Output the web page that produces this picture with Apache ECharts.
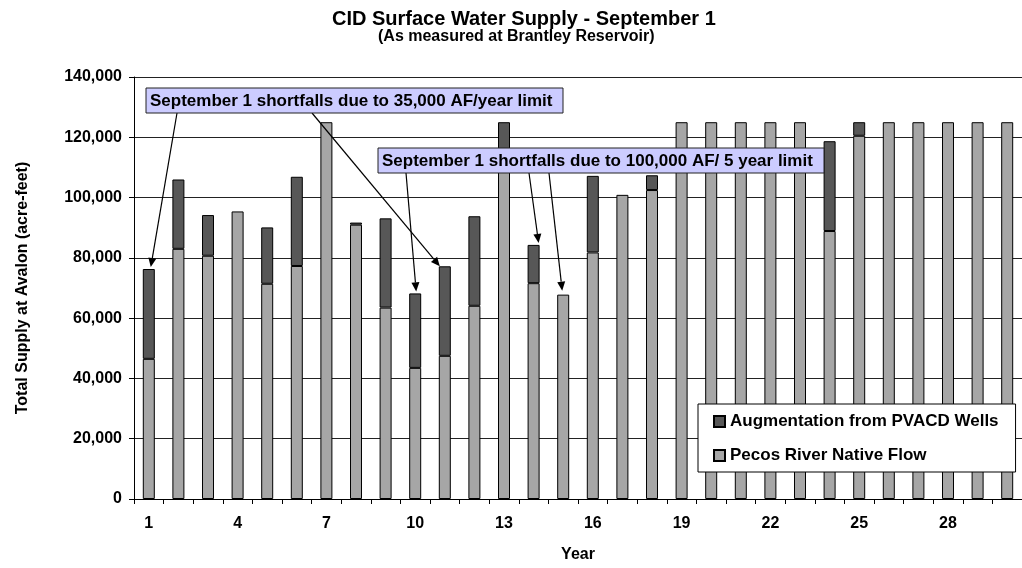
<!DOCTYPE html>
<html>
<head>
<meta charset="utf-8">
<script src="https://cdn.jsdelivr.net/npm/echarts@6/dist/echarts.min.js"></script>
<style>
  html, body { margin: 0; padding: 0; background: #fff; }
  #chart { width: 1022px; height: 568px; }
</style>
</head>
<body>
<div id="chart"></div>
<script>
// Years 1..30
const years = ["1","2","3","4","5","6","7","8","9","10","11","12","13","14","15",
  "16","17","18","19","20","21","22","23","24","25","26","27","28","29","30"];

// Pecos River native flow (acre-feet)
const nativeFlow = [46500, 83000, 80700, 95400, 71400, 77300, 125000, 91000, 63500, 43500,
  47500, 64100, 110000, 71600, 67800, 81800, 100900, 102500, 125000, 125000,
  125000, 125000, 125000, 88900, 120500, 125000, 125000, 125000, 125000, 125000];

// Augmentation from PVACD wells (acre-feet)
const augmentation = [29800, 23000, 13500, 0, 18700, 29600, 0, 700, 29600, 24700,
  29700, 29700, 15000, 12700, 0, 25400, 0, 4900, 0, 0,
  0, 0, 0, 29800, 4500, 0, 0, 0, 0, 0];

const yTicks = [0, 20000, 40000, 60000, 80000, 100000, 120000, 140000];

const FONT = "'Liberation Sans', Arial, sans-serif";

const chart = echarts.init(document.getElementById("chart"));

chart.setOption({
  animation: false,
  textStyle: { fontFamily: FONT },
  title: [
    {
      text: "CID Surface Water Supply - September 1",
      left: 332,
      top: 9,
      padding: 0,
      textStyle: { fontSize: 20, fontWeight: "bold", color: "#000", fontFamily: FONT }
    },
    {
      text: "(As measured at Brantley Reservoir)",
      left: 378,
      top: 29,
      padding: 0,
      textStyle: { fontSize: 16, fontWeight: "bold", color: "#000", fontFamily: FONT }
    }
  ],
  legend: {
    orient: "vertical",
    left: 698,
    top: 404,
    padding: [9, 17, 8, 15],
    icon: "rect",
    itemWidth: 11,
    itemHeight: 11,
    itemGap: 17,
    backgroundColor: "#fff",
    borderColor: "#000",
    borderWidth: 1,
    textStyle: { fontSize: 17, fontWeight: "bold", color: "#000", fontFamily: FONT },
    data: ["Augmentation from PVACD Wells", "Pecos River Native Flow"]
  },
  grid: { left: 134, right: -6, top: 77, bottom: 65 },
  xAxis: {
    type: "category",
    data: years,
    name: "Year",
    nameLocation: "middle",
    nameGap: 48,
    nameTextStyle: { fontSize: 16, fontWeight: "bold", color: "#000" },
    axisLine: { lineStyle: { color: "#000", width: 1 } },
    axisTick: { show: true, interval: 0, length: 5, lineStyle: { color: "#000" } },
    axisLabel: { interval: 2, margin: 17, fontSize: 16, fontWeight: "bold", color: "#000" }
  },
  yAxis: {
    type: "value",
    min: yTicks[0],
    max: yTicks[yTicks.length - 1],
    interval: yTicks[1] - yTicks[0],
    name: "Total Supply at Avalon (acre-feet)",
    nameLocation: "middle",
    nameGap: 103,
    nameTextStyle: { fontSize: 16, fontWeight: "bold", color: "#000" },
    axisLine: { show: true, lineStyle: { color: "#000", width: 1 } },
    axisTick: { show: true, length: 5, lineStyle: { color: "#000" } },
    axisLabel: {
      margin: 12,
      fontSize: 16,
      fontWeight: "bold",
      color: "#000",
      formatter: (v) => v.toLocaleString("en-US")
    },
    splitLine: { show: true, lineStyle: { color: "#222", width: 1 } }
  },
  series: [
    {
      name: "Pecos River Native Flow",
      type: "bar",
      stack: "supply",
      barWidth: 12,
      data: nativeFlow,
      itemStyle: { color: "#a6a6a6", borderColor: "#000", borderWidth: 1 }
    },
    {
      name: "Augmentation from PVACD Wells",
      type: "bar",
      stack: "supply",
      barWidth: 12,
      data: augmentation.map((v) => (v > 0 ? v : "-")),
      itemStyle: { color: "#575757", borderColor: "#000", borderWidth: 1 }
    }
  ]
});

// Callout boxes with arrows pointing at the tops of the bars
const callouts = [
  {
    text: "September 1 shortfalls due to 35,000 AF/year limit",
    x: 146, y: 88, w: 417, h: 25,
    arrows: [
      { fromX: 177, year: 0, dx: 2, dy: -2 },
      { fromX: 312, year: 10, dx: -5, dy: 0 }
    ]
  },
  {
    text: "September 1 shortfalls due to 100,000 AF/ 5 year limit",
    x: 378, y: 148, w: 446, h: 25,
    arrows: [
      { fromX: 406, year: 9, dx: 1, dy: -2 },
      { fromX: 529, year: 13, dx: 5, dy: -2 },
      { fromX: 549, year: 14, dx: -1, dy: -4 }
    ]
  }
];

const graphics = [];
callouts.forEach((c) => {
  c.arrows.forEach((a) => {
    const total = nativeFlow[a.year] + augmentation[a.year];
    const tip = chart.convertToPixel({ gridIndex: 0 }, [a.year, total]);
    const tx = tip[0] + a.dx;
    const ty = tip[1] + a.dy;
    const sx = a.fromX;
    const sy = c.y + c.h;
    const ang = Math.atan2(ty - sy, tx - sx);
    const headLen = 9;
    const headHalf = 4;
    const bx = tx - headLen * Math.cos(ang);
    const by = ty - headLen * Math.sin(ang);
    const px = -Math.sin(ang);
    const py = Math.cos(ang);
    graphics.push({
      type: "line",
      z: 100,
      shape: { x1: sx, y1: sy, x2: bx, y2: by },
      style: { stroke: "#000", lineWidth: 1.2 }
    });
    graphics.push({
      type: "polygon",
      z: 100,
      shape: {
        points: [
          [tx, ty],
          [bx + px * headHalf, by + py * headHalf],
          [bx - px * headHalf, by - py * headHalf]
        ]
      },
      style: { fill: "#000" }
    });
  });
  graphics.push({
    type: "rect",
    z: 101,
    shape: { x: c.x, y: c.y, width: c.w, height: c.h },
    style: { fill: "#ccccff", stroke: "#222", lineWidth: 1 }
  });
  graphics.push({
    type: "text",
    z: 102,
    x: c.x + 4,
    y: c.y + c.h / 2 + 1,
    style: {
      text: c.text,
      font: "bold 17px " + FONT,
      fill: "#000",
      verticalAlign: "middle",
      align: "left"
    }
  });
});

chart.setOption({ graphic: graphics });
</script>
</body>
</html>
